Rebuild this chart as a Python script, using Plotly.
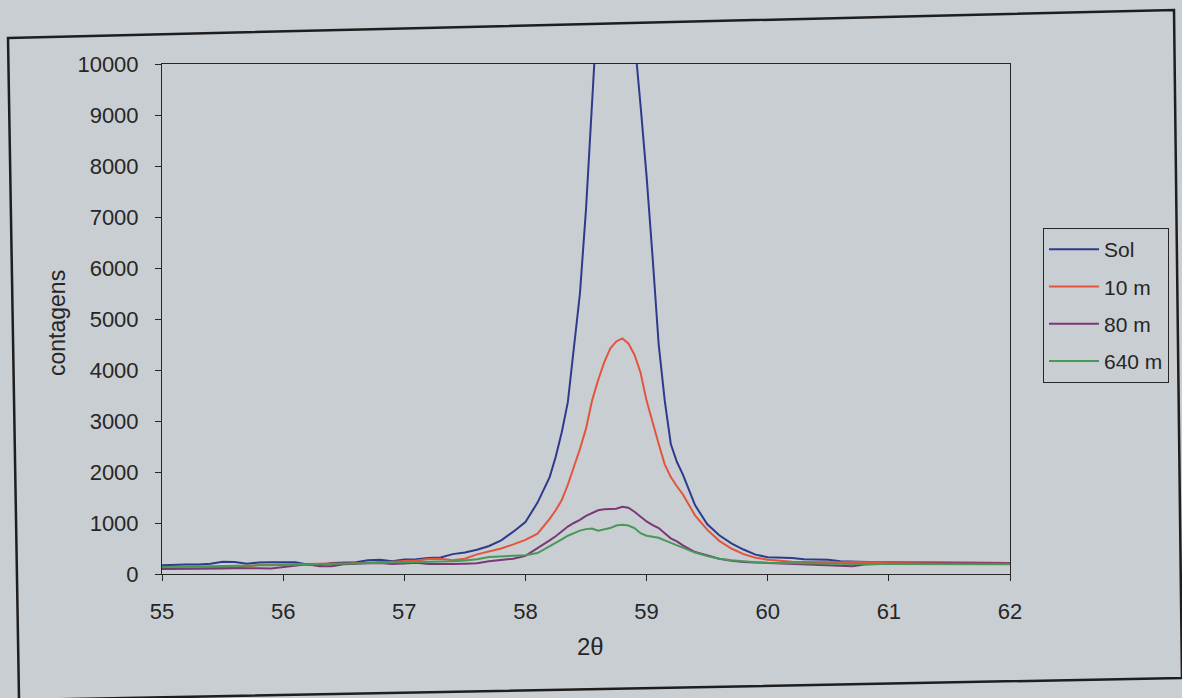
import plotly.graph_objects as go

# 2-theta grid (degrees)
two_theta = [55.0, 55.1, 55.2, 55.3, 55.4, 55.5, 55.6, 55.7, 55.8, 55.9,
             56.0, 56.1, 56.2, 56.3, 56.4, 56.5, 56.6, 56.7, 56.8, 56.9,
             57.0, 57.1, 57.2, 57.3, 57.4, 57.5, 57.6, 57.7, 57.8, 57.9,
             58.0, 58.1, 58.2,
             58.25, 58.30, 58.35, 58.40, 58.45, 58.50, 58.55, 58.60, 58.65, 58.70,
             58.75, 58.80, 58.85, 58.90, 58.95, 59.00, 59.05, 59.10, 59.15, 59.20,
             59.25, 59.30,
             59.4, 59.5, 59.6, 59.7, 59.8, 59.9,
             60.0, 60.1, 60.2, 60.3, 60.4, 60.5, 60.6, 60.7, 60.8, 60.9,
             61.0, 61.1, 61.2, 61.3, 61.4, 61.5, 61.6, 61.7, 61.8, 61.9, 62.0]

sol = [170, 180, 185, 185, 200, 240, 235, 200, 225, 230,
       230, 230, 185, 175, 215, 225, 230, 270, 280, 250,
       285, 290, 315, 325, 390, 420, 475, 550, 660, 830,
       1020, 1400, 1900,
       2300, 2780, 3370, 4500, 5500, 7150, 9600, 11800, 14000, 15500,
       16000, 15500, 13800, 10500, 9200, 7800, 6200, 4500, 3400, 2550,
       2200, 1950,
       1350, 980, 760, 600, 480, 380,
       330, 320, 315, 290, 280, 280, 250, 240, 235, 232,
       230, 228, 225, 225, 222, 220, 220, 218, 218, 215, 215]

m10 = [110, 110, 115, 115, 120, 120, 125, 150, 175, 180,
       185, 190, 200, 210, 205, 200, 215, 225, 235, 240,
       250, 265, 295, 300, 270, 300, 385, 440, 500, 580,
       670, 790, 1080,
       1250, 1450, 1750, 2100, 2450, 2850, 3400, 3800, 4150, 4420,
       4560, 4620, 4520, 4300, 3950, 3400, 2950, 2550, 2150, 1900,
       1720, 1560,
       1150, 870, 650, 500, 390, 320,
       280, 255, 240, 235, 230, 225, 230, 235, 230, 225,
       230, 225, 230, 225, 222, 225, 220, 222, 218, 220, 218]

m80 = [100, 100, 105, 105, 110, 110, 115, 120, 115, 110,
       140, 165, 190, 150, 150, 190, 205, 210, 215, 195,
       205, 220, 195, 190, 195, 200, 210, 250, 270, 300,
       355, 500, 660,
       740, 840, 930, 1000, 1060, 1140, 1200, 1250, 1270, 1270,
       1280, 1320, 1300, 1220, 1130, 1030, 960, 900, 800, 700,
       640, 560,
       430, 360, 300, 260, 235, 225,
       215, 205, 190, 180, 180, 170, 150, 150, 185, 195,
       200, 200, 205, 205, 205, 210, 210, 210, 210, 210, 210]

m640 = [135, 140, 145, 150, 155, 165, 170, 170, 170, 170,
        175, 175, 180, 185, 190, 195, 195, 200, 210, 220,
        230, 235, 240, 245, 250, 265, 290, 335, 350, 360,
        370, 410, 540,
        600, 680, 750, 800, 850, 880, 890, 850, 870, 900,
        950, 965, 950, 900, 800, 750, 730, 710, 660, 610,
        570, 520,
        420, 350, 300, 270, 245, 230,
        220, 215, 210, 205, 200, 200, 200, 195, 195, 195,
        195, 195, 195, 195, 190, 190, 190, 190, 190, 190, 190]

series_names = ["Sol", "10 m", "80 m", "640 m"]
series_values = [sol, m10, m80, m640]
series_colors = ["#2e3b8c", "#e2553c", "#7b3877", "#4a9858"]

x_ticks = [55, 56, 57, 58, 59, 60, 61, 62]
x_ticktext = ["55", "56", "57", "58", "59", "60", "61", "62"]
y_ticks = [0, 1000, 2000, 3000, 4000, 5000, 6000, 7000, 8000, 9000, 10000]
y_ticktext = ["0", "1000", "2000", "3000", "4000", "5000", "6000", "7000",
              "8000", "9000", "10000"]

BG = "#c9ced3"
INK = "#262626"
FONT = "Liberation Sans, Arial, sans-serif"

fig = go.Figure()
for i, (name, vals, col) in enumerate(zip(series_names, series_values, series_colors)):
    fig.add_trace(go.Scatter(x=two_theta, y=vals, mode="lines", name=name,
                             line=dict(color=col, width=2),
                             legendgroup="g%d" % i))

L, R, T, B = 162, 172, 64, 124
W, H = 1182, 698
pw = W - L - R
ph = H - T - B

def px(xpix):
    return (xpix - L) / pw

def py(ypix):
    return (H - B - ypix) / ph

fig.update_layout(
    width=W, height=H,
    margin=dict(l=L, r=R, t=T, b=B),
    paper_bgcolor=BG, plot_bgcolor=BG,
    font=dict(family=FONT, size=21, color=INK),
    showlegend=True,
    legend=dict(x=px(1043), y=py(228), xanchor="left", yanchor="top",
                bgcolor="rgba(0,0,0,0)", bordercolor=INK, borderwidth=1,
                font=dict(size=21, family=FONT, color=INK),
                tracegroupgap=7, itemwidth=50),
    xaxis=dict(range=[55, 62], tickvals=x_ticks, ticktext=x_ticktext,
               ticks="outside", ticklen=6,
               tickcolor=INK, showline=True, linecolor=INK, linewidth=1,
               mirror=True, showgrid=False, zeroline=False,
               tickfont=dict(size=22, family=FONT, color=INK),
               ticklabelstandoff=12),
    yaxis=dict(range=[0, 10000], tickvals=y_ticks, ticktext=y_ticktext,
               ticks="outside", ticklen=6,
               tickcolor=INK, showline=True, linecolor=INK, linewidth=1,
               mirror=True, showgrid=False, zeroline=False,
               tickfont=dict(size=22, family=FONT, color=INK),
               ticklabelstandoff=12),
    annotations=[
        dict(text="2θ", xref="paper", yref="paper", x=px(590), y=py(646),
             xanchor="center", yanchor="middle", showarrow=False,
             font=dict(size=24, family=FONT, color=INK)),
        dict(text="contagens", xref="paper", yref="paper", x=px(57), y=py(323),
             xanchor="center", yanchor="middle", showarrow=False, textangle=-90,
             font=dict(size=23, family=FONT, color=INK)),
    ],
)

# outer chart-area border (photographed slightly askew)
corners = [(8, 38), (1174, 10), (1182, 678), (19, 700)]
path = "M " + " L ".join("%.4f,%.4f" % (px(a), py(b)) for a, b in corners) + " Z"
fig.add_shape(type="path", path=path, xref="paper", yref="paper",
              line=dict(color="#1e1e1e", width=2.5), fillcolor="rgba(0,0,0,0)")

fig.write_html("out.html")
